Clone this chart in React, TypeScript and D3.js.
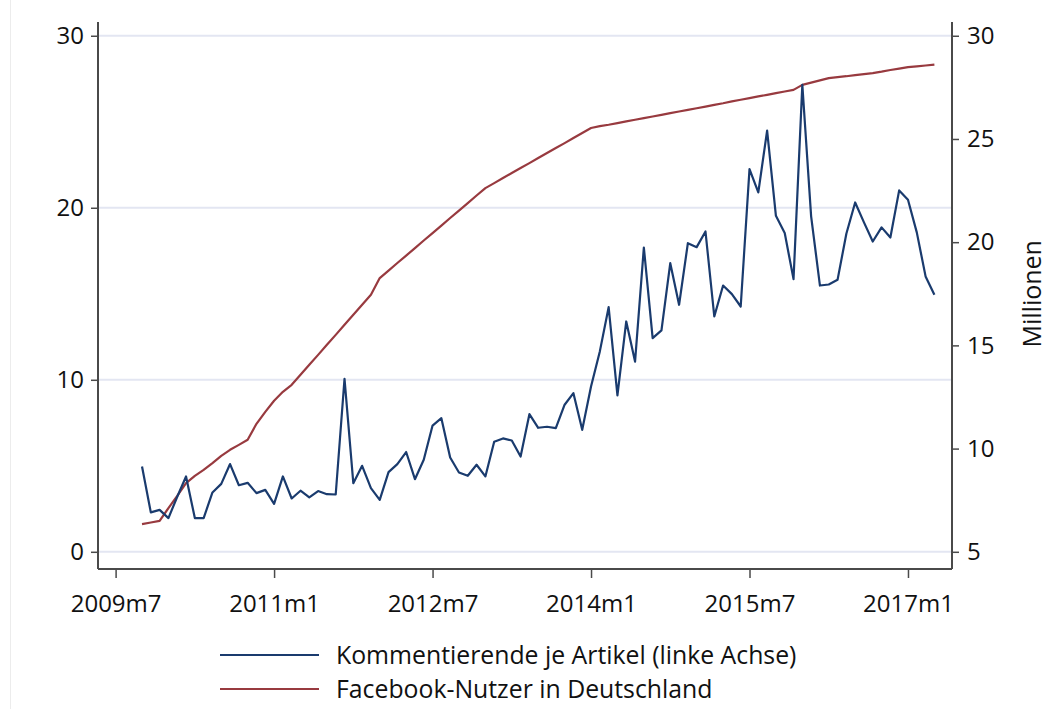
import React, { useEffect, useRef } from 'react';
import * as d3 from 'd3';

// Monate ab 2009m10 bis 2017m4 (Index 0 = 2009m7)
const startIndex = 3;

// Kommentierende je Artikel (linke Achse)
const kommentierende = [
  4.96, 2.29, 2.44, 1.96, 3.2, 4.38, 1.96, 1.96, 3.45, 3.95, 5.1, 3.87, 4.01,
  3.41, 3.6, 2.79, 4.38, 3.1, 3.55, 3.16, 3.53, 3.35, 3.33, 10.06, 3.99, 5.0,
  3.7, 3.02, 4.63, 5.1, 5.8, 4.22, 5.35, 7.34, 7.77, 5.48, 4.61, 4.42, 5.06,
  4.38, 6.4, 6.59, 6.47, 5.54, 8.0, 7.21, 7.27, 7.19, 8.55, 9.22, 7.09, 9.61,
  11.65, 14.22, 9.09, 13.39, 11.06, 17.69, 12.42, 12.87, 16.78, 14.36, 17.94,
  17.71, 18.62, 13.68, 15.48, 14.98, 14.26, 22.25, 20.89, 24.49, 19.53, 18.53,
  15.85, 27.15, 19.5, 15.48, 15.54, 15.81, 18.49, 20.31, 19.15, 18.04, 18.86,
  18.27, 21.01, 20.47, 18.57, 16.01, 14.94,
];

// Facebook-Nutzer in Deutschland, Millionen (rechte Achse)
const facebookNutzer = [
  6.34, 6.42, 6.5, 7.12, 7.71, 8.33, 8.68, 8.97, 9.3, 9.65, 9.94, 10.18, 10.43,
  11.2, 11.78, 12.32, 12.75, 13.09, 13.58, 14.06, 14.54, 15.03, 15.51, 16.0,
  16.48, 16.97, 17.45, 18.26, 18.62, 18.99, 19.35, 19.71, 20.08, 20.44, 20.8,
  21.17, 21.53, 21.89, 22.26, 22.62, 22.86, 23.11, 23.35, 23.59, 23.83, 24.08,
  24.32, 24.56, 24.8, 25.05, 25.29, 25.53, 25.62, 25.69, 25.77, 25.85, 25.93,
  26.01, 26.09, 26.17, 26.25, 26.33, 26.41, 26.49, 26.57, 26.65, 26.73, 26.82,
  26.9, 26.98, 27.06, 27.14, 27.22, 27.3, 27.38, 27.62, 27.73, 27.84, 27.95,
  28.0, 28.04, 28.09, 28.14, 28.19, 28.26, 28.34, 28.41, 28.48, 28.52, 28.56,
  28.6,
];

const xTickIndex = [0, 18, 36, 54, 72, 90];
const xTickLabels = ['2009m7', '2011m1', '2012m7', '2014m1', '2015m7', '2017m1'];
const leftTicks = [0, 10, 20, 30];
const rightTicks = [5, 10, 15, 20, 25, 30];
const legendLabels = [
  'Kommentierende je Artikel (linke Achse)',
  'Facebook-Nutzer in Deutschland',
];

const BLUE = '#1a3b6e';
const RED = '#983a3f';
const AXIS = '#4a4a4a';
const GRID = '#e3e6f2';
const FONT = '"Open Sans", "Noto Sans", sans-serif';

function Chart() {
  const ref = useRef<SVGSVGElement>(null);

  useEffect(() => {
    const svg = d3.select(ref.current);
    svg.selectAll('*').remove();

    // Skalen
    const x = d3.scaleLinear().domain([-2, 95]).range([98, 952]);
    const yL = d3.scaleLinear().domain([-1, 30.8]).range([569, 22]);
    const yR = d3.scaleLinear().domain([5, 30]).range([yL(0), yL(30)]);

    // Rahmen links (Bildkante)
    svg
      .append('line')
      .attr('x1', 10.5)
      .attr('x2', 10.5)
      .attr('y1', 0)
      .attr('y2', 709)
      .attr('stroke', '#ececec')
      .attr('stroke-width', 1);

    // Gitternetz
    svg
      .append('g')
      .selectAll('line')
      .data(leftTicks)
      .enter()
      .append('line')
      .attr('x1', 98)
      .attr('x2', 952)
      .attr('y1', (d) => yL(d))
      .attr('y2', (d) => yL(d))
      .attr('stroke', GRID)
      .attr('stroke-width', 2);

    // Linke Achse
    const leftAxis = svg
      .append('g')
      .attr('transform', 'translate(98,0)')
      .call(d3.axisLeft(yL).tickValues(leftTicks).tickSize(7).tickPadding(7));
    // Rechte Achse
    const rightAxis = svg
      .append('g')
      .attr('transform', 'translate(952,0)')
      .call(d3.axisRight(yR).tickValues(rightTicks).tickSize(7).tickPadding(8));
    // X-Achse
    const bottomAxis = svg
      .append('g')
      .attr('transform', 'translate(0,569)')
      .call(
        d3
          .axisBottom(x)
          .tickValues(xTickIndex)
          .tickSize(9)
          .tickPadding(17)
          .tickFormat((d, i) => xTickLabels[i])
      );

    [leftAxis, rightAxis, bottomAxis].forEach((g) => {
      g.select('.domain').attr('stroke', AXIS).attr('stroke-width', 2);
      g.selectAll('.tick line').attr('stroke', AXIS).attr('stroke-width', 1.5);
      g.selectAll('.tick text')
        .attr('fill', '#111')
        .style('font-family', FONT)
        .style('font-size', '24px');
    });
    bottomAxis.selectAll('.tick text').attr('dy', '0.71em');
    leftAxis.select('.domain').attr('d', 'M0,22V569');
    rightAxis.select('.domain').attr('d', 'M0,22V569');
    bottomAxis.select('.domain').attr('d', 'M98,0H952');

    // Achsentitel rechts
    svg
      .append('text')
      .attr('transform', `translate(1041,${yL(15)}) rotate(-90)`)
      .attr('text-anchor', 'middle')
      .style('font-family', FONT)
      .style('font-size', '25px')
      .attr('fill', '#111')
      .text('Millionen');

    // Linien
    const lineL = d3
      .line<number>()
      .x((d, i) => x(startIndex + i))
      .y((d) => yL(d));
    const lineR = d3
      .line<number>()
      .x((d, i) => x(startIndex + i))
      .y((d) => yR(d));

    svg
      .append('path')
      .datum(facebookNutzer)
      .attr('d', lineR)
      .attr('fill', 'none')
      .attr('stroke', RED)
      .attr('stroke-width', 2.2)
      .attr('stroke-linejoin', 'round');

    svg
      .append('path')
      .datum(kommentierende)
      .attr('d', lineL)
      .attr('fill', 'none')
      .attr('stroke', BLUE)
      .attr('stroke-width', 2.2)
      .attr('stroke-linejoin', 'round');

    // Legende
    const legend = svg
      .append('g')
      .selectAll('g')
      .data(legendLabels)
      .enter()
      .append('g')
      .attr('transform', (d, i) => `translate(220,${655 + i * 34})`);
    legend
      .append('line')
      .attr('x1', 0)
      .attr('x2', 99)
      .attr('stroke', (d, i) => (i === 0 ? BLUE : RED))
      .attr('stroke-width', 2.2);
    legend
      .append('text')
      .attr('x', 116)
      .attr('dy', '0.35em')
      .style('font-family', FONT)
      .style('font-size', '24.8px')
      .attr('fill', '#111')
      .text((d) => d);
  }, []);

  return (
    <svg
      ref={ref}
      width={1050}
      height={709}
      style={{ position: 'absolute', left: 0, top: 0, background: '#fff' }}
    />
  );
}

export default function App() {
  return <Chart />;
}
